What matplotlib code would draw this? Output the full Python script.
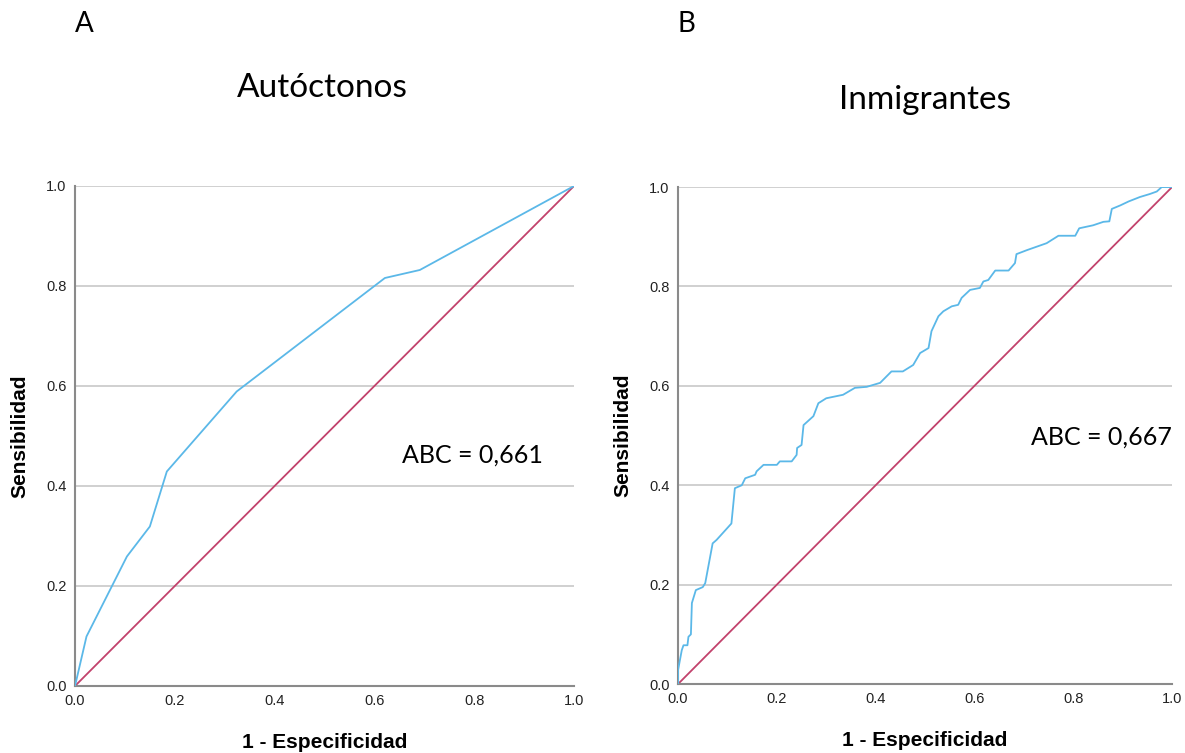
import matplotlib.pyplot as plt

# Panel A: Autóctonos
auto_fpr = [0.0, 0.023, 0.104, 0.150, 0.184, 0.324, 0.621, 0.691, 1.0]
auto_tpr = [0.0, 0.099, 0.259, 0.319, 0.429, 0.589, 0.816, 0.832, 1.0]

# Panel B: Inmigrantes
inm_fpr = [0.0, 0.0, 0.0075, 0.011, 0.019, 0.021, 0.026, 0.028, 0.036, 0.05,
           0.055, 0.07, 0.078, 0.108, 0.115, 0.129, 0.136, 0.156, 0.159, 0.173,
           0.20, 0.206, 0.23, 0.24, 0.241, 0.25, 0.254, 0.274, 0.284, 0.30,
           0.334, 0.358, 0.382, 0.409, 0.432, 0.455, 0.476, 0.49, 0.507, 0.513,
           0.527, 0.537, 0.554, 0.567, 0.574, 0.591, 0.611, 0.618, 0.628, 0.642,
           0.669, 0.682, 0.685, 0.706, 0.746, 0.77, 0.804, 0.812, 0.84, 0.861,
           0.873, 0.878, 0.895, 0.912, 0.935, 0.955, 0.969, 0.979, 1.0]
inm_tpr = [0.0, 0.028, 0.068, 0.078, 0.078, 0.095, 0.10, 0.163, 0.189, 0.195,
           0.203, 0.283, 0.29, 0.323, 0.394, 0.40, 0.414, 0.421, 0.428, 0.441,
           0.441, 0.448, 0.448, 0.461, 0.475, 0.481, 0.521, 0.539, 0.565, 0.575,
           0.582, 0.596, 0.598, 0.606, 0.629, 0.629, 0.642, 0.666, 0.676, 0.71,
           0.740, 0.750, 0.760, 0.763, 0.777, 0.793, 0.797, 0.810, 0.813, 0.832,
           0.832, 0.847, 0.865, 0.873, 0.887, 0.902, 0.902, 0.917, 0.923, 0.930,
           0.931, 0.956, 0.963, 0.971, 0.980, 0.986, 0.991, 1.0, 1.0]

ticks = [0.0, 0.2, 0.4, 0.6, 0.8, 1.0]
tick_labels = ["0.0", "0.2", "0.4", "0.6", "0.8", "1.0"]

panels = [
    ("A", "Autóctonos", "ABC = 0,661", auto_fpr, auto_tpr),
    ("B", "Inmigrantes", "ABC = 0,667", inm_fpr, inm_tpr),
]

ROC_COLOR = "#5bb8e8"
REF_COLOR = "#c2426c"
GRID_COLOR = "#c8c8c8"
SPINE_COLOR = "#8a8a8a"
TEXT_FONT = "Lato"

fig = plt.figure(figsize=(11.85, 7.53), dpi=100)
ax_rects = [
    [0.0633, 0.0890, 0.4211, 0.6640],
    [0.5722, 0.0916, 0.4169, 0.6600],
]
letter_pos = [(0.071, 0.968), (0.579, 0.968)]
title_pos = [(0.272, 0.883), (0.781, 0.867)]
abc_pos = [(0.797, 0.462), (0.858, 0.497)]

for i, (letter, title, abc, fpr, tpr) in enumerate(panels):
    ax = fig.add_axes(ax_rects[i])
    ax.plot([0, 1], [0, 1], color=REF_COLOR, lw=1.3, zorder=2)
    ax.plot(fpr, tpr, color=ROC_COLOR, lw=1.3, zorder=3)
    ax.set_xlim(0, 1)
    ax.set_ylim(0, 1)
    ax.set_xticks(ticks)
    ax.set_xticklabels(tick_labels)
    ax.set_yticks(ticks)
    ax.set_yticklabels(tick_labels)
    for y in ticks[1:]:
        ax.axhline(y, color=GRID_COLOR, lw=1.2, zorder=1)
    ax.tick_params(length=0, labelsize=10.5, colors="#222222")
    ax.tick_params(axis="y", pad=6)
    ax.tick_params(axis="x", pad=6)
    for side in ("top", "right"):
        ax.spines[side].set_visible(False)
    for side in ("left", "bottom"):
        ax.spines[side].set_color(SPINE_COLOR)
        ax.spines[side].set_linewidth(1.5)
    ax.set_xlabel("1 - Especificidad", fontsize=15, fontweight="bold",
                  family="Liberation Sans", labelpad=18)
    ax.set_ylabel("Sensibilidad", fontsize=15, fontweight="bold",
                  family="Liberation Sans", labelpad=12)
    for lab in ax.get_xticklabels() + ax.get_yticklabels():
        lab.set_family("Liberation Sans")
    ax.text(abc_pos[i][0], abc_pos[i][1], abc, transform=ax.transAxes,
            fontsize=18, family=TEXT_FONT, ha="center", va="center")
    fig.text(letter_pos[i][0], letter_pos[i][1], letter, fontsize=20,
             family=TEXT_FONT, ha="center", va="center")
    fig.text(title_pos[i][0], title_pos[i][1], title, fontsize=24,
             family=TEXT_FONT, ha="center", va="center")

fig.savefig("out.png", dpi=100)
